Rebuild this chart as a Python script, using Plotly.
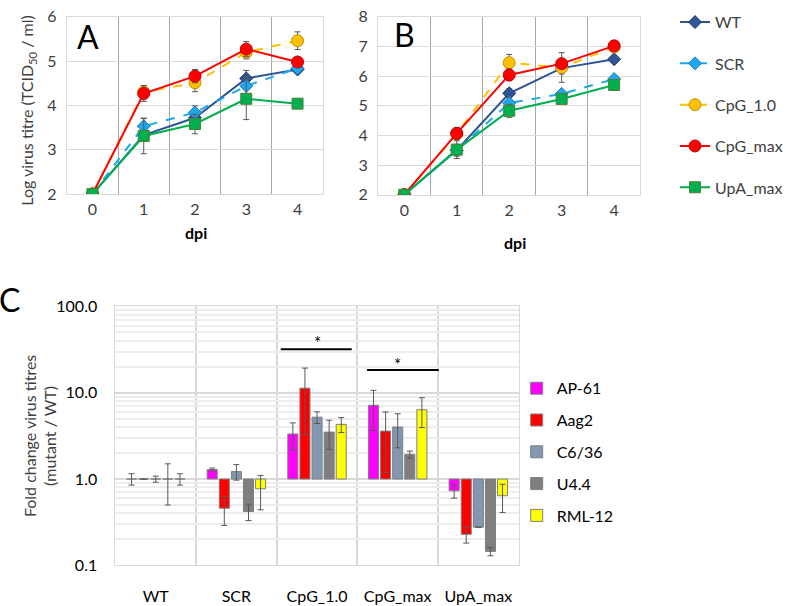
import math
import plotly.graph_objects as go

# ---------------- data ----------------
dpi = [0, 1, 2, 3, 4]
series_names = ["WT", "SCR", "CpG_1.0", "CpG_max", "UpA_max"]

# Panel A (log TCID50/ml)
A_WT = [2.0, 3.33, 3.72, 4.61, 4.81]
A_SCR = [2.0, 3.53, 3.84, 4.44, 4.84]
A_CpG10 = [2.0, 4.30, 4.51, 5.20, 5.46]
A_CpGmax = [2.0, 4.27, 4.66, 5.27, 4.98]
A_UpAmax = [2.0, 3.31, 3.58, 4.15, 4.04]
A_WT_err = [0, 0.12, 0.2, 0.18, 0.05]
A_SCR_err = [0, 0.18, 0.15, 0.2, 0.05]
A_CpG10_err = [0, 0.15, 0.2, 0.15, 0.2]
A_CpGmax_err = [0, 0.18, 0.15, 0.17, 0.05]
A_UpAmax_err = [0, 0.4, 0.22, 0.47, 0.05]

# Panel B
B_WT = [2.0, 3.50, 5.42, 6.27, 6.57]
B_SCR = [2.0, 3.50, 5.09, 5.40, 5.90]
B_CpG10 = [2.0, 4.05, 6.45, 6.29, 6.98]
B_CpGmax = [2.0, 4.07, 6.04, 6.42, 7.02]
B_UpAmax = [2.0, 3.52, 4.83, 5.23, 5.70]
B_WT_err = [0, 0.15, 0.15, 0.2, 0.1]
B_SCR_err = [0, 0.2, 0.2, 0.1, 0.1]
B_CpG10_err = [0, 0.15, 0.28, 0.5, 0.15]
B_CpGmax_err = [0, 0.2, 0.2, 0.1, 0.1]
B_UpAmax_err = [0, 0.3, 0.22, 0.1, 0.08]

# Panel C (fold change mutant / WT), per cell line across mutants
C_categories = ["WT", "SCR", "CpG_1.0", "CpG_max", "UpA_max"]
cell_lines = ["AP-61", "Aag2", "C6/36", "U4.4", "RML-12"]
C_AP61 = [1.0, 1.29, 3.32, 7.15, 0.73]
C_Aag2 = [1.0, 0.46, 11.3, 3.59, 0.229]
C_C636 = [1.0, 1.22, 5.2, 4.0, 0.277]
C_U44 = [1.0, 0.42, 3.5, 1.93, 0.145]
C_RML12 = [1.0, 0.77, 4.3, 6.35, 0.64]
C_AP61_err = [0.15, 0.05, 1.15, 3.5, 0.13]
C_Aag2_err = [0, 0.17, 8.0, 2.4, 0.048]
C_C636_err = [0.08, 0.25, 0.8, 1.7, 0]
C_U44_err = [0.5, 0.09, 1.3, 0.18, 0.016]
C_RML12_err = [0.15, 0.33, 0.85, 2.4, 0.23]

# significance brackets (group index span, y level)
sig_spans = [(1.55, 2.43, 31.8), (2.62, 3.51, 18.3)]
sig_stars = [(2.0, 38), (3.0, 21.5)]

# ---------------- styling ----------------
FONT = "Lato"
TXT = "#404040"
styles = {
    "WT": dict(color="#2F5597", dash="solid", symbol="diamond", size=10, edge="#203864"),
    "SCR": dict(color="#1CA9EE", dash="dash", symbol="diamond", size=10, edge="#2E75B6"),
    "CpG_1.0": dict(color="#FFC000", dash="dash", symbol="circle", size=12, edge="#BF9000"),
    "CpG_max": dict(color="#FF0000", dash="solid", symbol="circle", size=12, edge="#C00000"),
    "UpA_max": dict(color="#00B050", dash="solid", symbol="square", size=11, edge="#507E32"),
}
bar_colors = ["#FF00FF", "#FF0000", "#8497B0", "#7F7F7F", "#FFFF00"]

A_vals = [A_WT, A_SCR, A_CpG10, A_CpGmax, A_UpAmax]
A_errs = [A_WT_err, A_SCR_err, A_CpG10_err, A_CpGmax_err, A_UpAmax_err]
B_vals = [B_WT, B_SCR, B_CpG10, B_CpGmax, B_UpAmax]
B_errs = [B_WT_err, B_SCR_err, B_CpG10_err, B_CpGmax_err, B_UpAmax_err]
C_vals = [C_AP61, C_Aag2, C_C636, C_U44, C_RML12]
C_errs = [C_AP61_err, C_Aag2_err, C_C636_err, C_U44_err, C_RML12_err]

fig = go.Figure()

for panel, (vals, errs, xa, ya) in enumerate([(A_vals, A_errs, "x", "y"), (B_vals, B_errs, "x2", "y2")]):
    for name, v, e in zip(series_names, vals, errs):
        s = styles[name]
        fig.add_trace(go.Scatter(
            x=dpi, y=v, name=name, xaxis=xa, yaxis=ya,
            mode="lines+markers",
            line=dict(color=s["color"], width=2, dash=s["dash"]),
            marker=dict(symbol=s["symbol"], size=s["size"], color=s["color"],
                        line=dict(color=s["edge"], width=1)),
            error_y=dict(type="data", array=e, color="#595959", thickness=1, width=3),
            legend="legend", legendgroup=name, showlegend=(panel == 0),
        ))

C_x = list(range(len(C_categories)))
for name, v, e, col in zip(cell_lines, C_vals, C_errs, bar_colors):
    fig.add_trace(go.Bar(
        x=C_x, y=[val - 1.0 for val in v], base=1.0, name=name,
        xaxis="x3", yaxis="y3",
        marker=dict(color=col, line=dict(color="#7F7F7F", width=1)),
        error_y=dict(type="data", array=e, color="#595959", thickness=1, width=3),
        legend="legend2", legendgroup=name,
    ))

for x0, x1, yv in sig_spans:
    fig.add_trace(go.Scatter(x=[x0, x1], y=[yv, yv], mode="lines", xaxis="x3", yaxis="y3",
                             line=dict(color="black", width=2), showlegend=False, hoverinfo="skip"))

annotations = []
for xs, ys in sig_stars:
    annotations.append(dict(x=xs, y=math.log10(ys), xref="x3", yref="y3", text="*",
                            showarrow=False, font=dict(family=FONT, size=17, color="black")))

def pa(px, py, text, size, color=TXT, angle=0):
    return dict(x=px / 788, y=1 - py / 606, xref="paper", yref="paper", text=text,
                showarrow=False, xanchor="center", yanchor="middle", textangle=angle,
                font=dict(family=FONT, size=size, color=color))

annotations += [
    pa(88, 27, "A", 32, "black"),
    pa(406, 25, "B", 32, "black"),
    pa(10, 299, "C", 32, "black"),
    pa(28, 104, "Log virus titre (TCID<sub>50</sub> / ml)", 16, TXT, -90),
    pa(196, 230, "<b>dpi</b>", 16, "black"),
    pa(516, 240, "<b>dpi</b>", 16, "black"),
    pa(40, 440, "Fold change virus titres<br>(mutant / WT)", 16, TXT, -90),
]

grid_h = "#D9D9D9"
grid_v = "#A6A6A6"
frame = "#D9D9D9"

def line_xaxis(domain, anchor):
    return dict(domain=domain, anchor=anchor, range=[-0.5, 4.5], tickvals=dpi,
                showgrid=False, zeroline=False, showline=True, mirror=True, linecolor=frame,
                ticks="", ticklabelstandoff=1,
                tickfont=dict(family=FONT, size=16, color=TXT),
                minor=dict(tickvals=[0.5, 1.5, 2.5, 3.5], showgrid=True, gridcolor=grid_v,
                           gridwidth=1, ticks=""))

def line_yaxis(domain, anchor, rng):
    return dict(domain=domain, anchor=anchor, range=rng, dtick=1, showgrid=True,
                gridcolor=grid_h, zeroline=False, showline=True, mirror=True, linecolor=frame,
                ticks="", ticklabelstandoff=6,
                tickfont=dict(family=FONT, size=16, color=TXT))

minor_log = [m * 10 ** d for d in (-1, 0, 1) for m in range(2, 10)]

fig.update_layout(
    width=788, height=606, autosize=False,
    margin=dict(l=0, r=0, t=0, b=0),
    paper_bgcolor="white", plot_bgcolor="white",
    font=dict(family=FONT, color=TXT),
    xaxis=line_xaxis([67 / 788, 324 / 788], "y"),
    yaxis=line_yaxis([1 - 190 / 606, 1 - 7 / 606], "x", [2, 6]),
    xaxis2=line_xaxis([379 / 788, 642 / 788], "y2"),
    yaxis2=line_yaxis([1 - 190.7 / 606, 1 - 7 / 606], "x2", [2, 8]),
    xaxis3=dict(domain=[115.7 / 788, 520 / 788], anchor="y3", range=[-0.5, 4.5],
                tickvals=C_x, ticktext=C_categories, showgrid=False, zeroline=False,
                showline=True, mirror=True, linecolor=frame, ticks="", ticklabelstandoff=16,
                tickfont=dict(family=FONT, size=16, color="black"),
                minor=dict(tickvals=[0.5, 1.5, 2.5, 3.5], showgrid=True, gridcolor="#D9D9D9",
                           gridwidth=2, ticks="")),
    yaxis3=dict(domain=[1 - 573.3 / 606, 1 - 306 / 606], anchor="x3", type="log", range=[-1, 2],
                tickvals=[0.1, 1, 10, 100], ticktext=["0.1", "1.0", "10.0", "100.0"],
                showgrid=True, gridcolor="#D9D9D9", gridwidth=1.5, zeroline=False,
                showline=True, mirror=True, linecolor=frame, ticks="", ticklabelstandoff=14,
                tickfont=dict(family=FONT, size=16, color="black"),
                minor=dict(tickvals=minor_log, showgrid=True, gridcolor="#EDEDED", ticks="")),
    barmode="group", bargap=0.25, bargroupgap=0.17,
    legend=dict(x=677 / 788, y=1 + 5 / 606, xanchor="left", yanchor="top",
                font=dict(family=FONT, size=16, color=TXT), tracegroupgap=17.5,
                bgcolor="rgba(0,0,0,0)", itemclick=False, itemdoubleclick=False),
    legend2=dict(x=518 / 788, y=1 - 373 / 606, xanchor="left", yanchor="top",
                 font=dict(family=FONT, size=16, color="black"), tracegroupgap=8,
                 bgcolor="rgba(0,0,0,0)", itemclick=False, itemdoubleclick=False),
    annotations=annotations,
    showlegend=True,
)

fig.write_html("out.html", config={"displayModeBar": False},
               post_script="document.body.style.margin='0px';")
